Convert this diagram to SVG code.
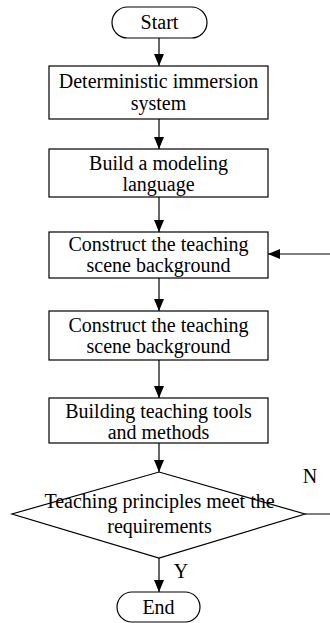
<svg xmlns="http://www.w3.org/2000/svg" width="330" height="623" viewBox="0 0 330 623">
<style>
.shape{fill:#fff;stroke:#000;stroke-width:1.2}
.t{font-family:"Liberation Serif","Times New Roman",serif;font-size:20px;fill:#000;text-anchor:middle}
.c{fill:none;stroke:#000;stroke-width:1.2}
</style>
<defs>
<marker id="ah" markerUnits="userSpaceOnUse" markerWidth="12" markerHeight="10" refX="12" refY="5" orient="auto">
<path d="M0,0 L12,5 L0,10 z" fill="#000"/>
</marker>
</defs>
<rect width="330" height="623" fill="#fff"/>
<g id="connectors">
<line class="c" x1="159" y1="38" x2="159" y2="66" marker-end="url(#ah)"/>
<line class="c" x1="159" y1="119" x2="159" y2="149" marker-end="url(#ah)"/>
<line class="c" x1="159" y1="197" x2="159" y2="232" marker-end="url(#ah)"/>
<line class="c" x1="159" y1="278" x2="159" y2="311" marker-end="url(#ah)"/>
<line class="c" x1="159" y1="360" x2="159" y2="398" marker-end="url(#ah)"/>
<line class="c" x1="159" y1="443" x2="159" y2="472" marker-end="url(#ah)"/>
<line class="c" x1="159" y1="558" x2="159" y2="592" marker-end="url(#ah)"/>
<polyline class="c" points="305,514 345,514 345,254 268,254" marker-end="url(#ah)"/>
<text class="t" x="310" y="483">N</text>
<text class="t" x="181" y="578">Y</text>
</g>
<g id="start">
<rect class="shape" x="112" y="7" width="95" height="31" rx="15.5"/>
<text class="t" x="159.5" y="29">Start</text>
</g>
<g id="box1">
<rect class="shape" x="49" y="66" width="219" height="53"/>
<text class="t" x="158.5" y="88">Deterministic immersion</text>
<text class="t" x="158.5" y="110">system</text>
</g>
<g id="box2">
<rect class="shape" x="49" y="149" width="219" height="48"/>
<text class="t" x="158.5" y="170">Build a modeling</text>
<text class="t" x="158.5" y="191">language</text>
</g>
<g id="box3">
<rect class="shape" x="49" y="232" width="219" height="46"/>
<text class="t" x="158.5" y="251">Construct the teaching</text>
<text class="t" x="158.5" y="272">scene background</text>
</g>
<g id="box4">
<rect class="shape" x="49" y="311" width="219" height="49"/>
<text class="t" x="158.5" y="332">Construct the teaching</text>
<text class="t" x="158.5" y="353">scene background</text>
</g>
<g id="box5">
<rect class="shape" x="49" y="398" width="219" height="45"/>
<text class="t" x="158.5" y="418">Building teaching tools</text>
<text class="t" x="158.5" y="439">and methods</text>
</g>
<g id="decision">
<polygon class="shape" points="159,472 305,514 159,558 12,514"/>
<text class="t" x="159.5" y="508">Teaching principles meet the</text>
<text class="t" x="159.5" y="533">requirements</text>
</g>
<g id="end">
<rect class="shape" x="117" y="592" width="83" height="30" rx="15"/>
<text class="t" x="158.5" y="614">End</text>
</g>
</svg>
